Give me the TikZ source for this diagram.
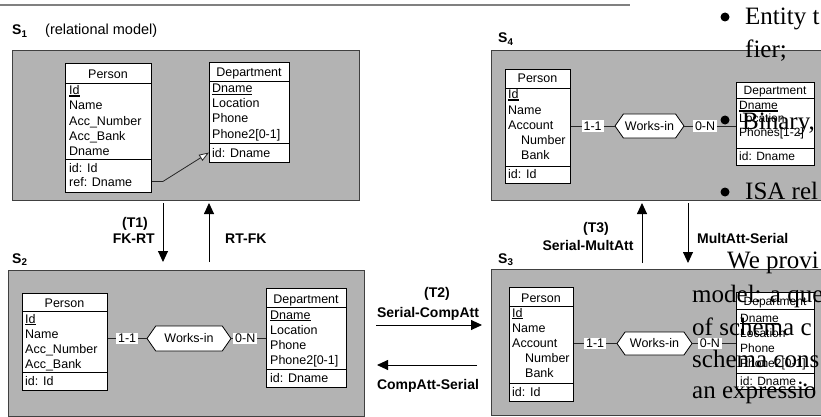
\documentclass[tikz,border=0pt]{standalone}
\usepackage{fontspec}
\setmainfont{Liberation Sans}
\newfontfamily\serifface{Liberation Serif}
\usetikzlibrary{arrows.meta,shapes.symbols,calc}
\definecolor{panelgray}{RGB}{179,179,179}
\definecolor{rulegray}{RGB}{128,128,128}
\newcommand\keyul[1]{\setbox0\hbox{#1}\rlap{\rule[-1.8pt]{\wd0}{1.3pt}}\box0}
\begin{document}
\begin{tikzpicture}[x=1pt,y=-1pt,
  panel/.style={draw=black!75, fill=panelgray, line width=0.8pt, inner sep=0, anchor=north west},
  tbl/.style={draw=black, fill=white, line width=0.8pt, inner sep=0, anchor=north west},
  attrow/.style={font=\fontsize{12.5}{15}\selectfont, inner sep=0, anchor=base west},
  smallrow/.style={font=\fontsize{12}{13}\selectfont, inner sep=0, anchor=base west},
  hdr/.style={font=\fontsize{12.5}{15}\selectfont, inner sep=0, anchor=base},
  lbl/.style={font=\bfseries\fontsize{14}{16}\selectfont, inner sep=0, anchor=base},
  slabel/.style={font=\bfseries\fontsize{14}{16}\selectfont, inner sep=0, anchor=base west},
  card/.style={fill=white, font=\fontsize{12.5}{15}\selectfont, inner xsep=2pt, inner ysep=1pt, text height=9pt, text depth=0.5pt},
  rel/.style={draw=black, fill=white, line width=0.8pt, signal, signal to=west and east, signal pointer angle=110, font=\fontsize{12.5}{15}\selectfont, inner sep=0},
  conn/.style={draw=black!85, line width=0.8pt},
  divline/.style={draw=black, line width=0.8pt},
  tarrow/.style={draw=black, line width=0.9pt, -{Triangle[width=10pt,length=11pt]}},
  overtext/.style={font=\serifface\fontsize{25}{28}\selectfont, inner sep=0, anchor=base west},
]
\clip (0,0) rectangle (821,417);
\fill[white] (0,0) rectangle (821,417);
% top rule
\draw[rulegray, line width=2pt] (0,5) -- (630,5);

% ---------------- panels
\node[panel, minimum width=347, minimum height=150] (s1) at (12,50) {};
\node[panel, minimum width=356, minimum height=146] (s2) at (8,270) {};
\node[panel, minimum width=345, minimum height=150] (s4) at (491,50) {};
\node[panel, minimum width=345, minimum height=146] (s3) at (491,269) {};

\node[slabel] (s1lab) at (12,35) {S\textsubscript{1}};
\node[slabel, font=\fontsize{14.5}{16}\selectfont] (s1sub) at (45,35) {(relational model)};
\node[slabel] (s2lab) at (12,263) {S\textsubscript{2}};
\node[slabel] (s4lab) at (498,43) {S\textsubscript{4}};
\node[slabel] (s3lab) at (498,263) {S\textsubscript{3}};

% ---------------- S1
\node[tbl, minimum width=86, minimum height=129] (p1) at (65,63) {};
\draw[divline] (65,83) -- (151,83);
\draw[divline] (65,159) -- (151,159);
\node[hdr] (p1h) at (108,79) {Person};
\foreach \t [count=\i] in {{\keyul{Id}},Name,Acc\_Number,Acc\_Bank,Dname}
  \node[attrow] (p1r\i) at (69,80+15*\i) {\t};
\node[attrow] (p1k1) at (69,172) {id: Id};
\node[attrow] (p1k2) at (69,186) {ref: Dname};

\node[tbl, minimum width=80, minimum height=100] (d1) at (209,62) {};
\draw[divline] (209,81) -- (289,81);
\draw[divline] (209,143) -- (289,143);
\node[hdr] (d1h) at (249,77) {Department};
\foreach \t [count=\i] in {{\keyul{Dname}},Location,Phone,Phone2[0-1]}
  \node[attrow] (d1r\i) at (212,78+15*\i) {\t};
\node[attrow] (d1k1) at (212,157) {id: Dname};

\draw[conn, -{Triangle[width=7pt,length=10pt,fill=white]}] (p1.east |- p1k2) -- ++(11,0) -- (d1.west |- d1k1);

% ---------------- S2
\node[tbl, minimum width=85, minimum height=97] (p2) at (22,293) {};
\draw[divline] (22,311) -- (107,311);
\draw[divline] (22,372) -- (107,372);
\node[hdr] (p2h) at (64.5,307) {Person};
\foreach \t [count=\i] in {{\keyul{Id}},Name,Acc\_Number,Acc\_Bank}
  \node[attrow] (p2r\i) at (25,308+15*\i) {\t};
\node[attrow] (p2k1) at (25,385) {id: Id};

\node[tbl, minimum width=80, minimum height=99] (d2) at (266,288) {};
\draw[divline] (266,307) -- (346,307);
\draw[divline] (266,369) -- (346,369);
\node[hdr] (d2h) at (306,303) {Department};
\foreach \t [count=\i] in {{\keyul{Dname}},Location,Phone,Phone2[0-1]}
  \node[attrow] (d2r\i) at (270,304+15*\i) {\t};
\node[attrow] (d2k1) at (270,382) {id: Dname};

\node[rel, minimum width=84, minimum height=25] (w2) at (189,338.5) {Works-in};
\draw[conn] (p2.east |- w2.west) -- node[card] (c21) {1-1} (w2.west);
\draw[conn] (w2.east) -- node[card, pos=0.4] (c22) {0-N} (d2.west |- w2.east);

% ---------------- S4
\node[tbl, minimum width=65, minimum height=114] (p4) at (505,69) {};
\draw[divline] (505,88) -- (570,88);
\draw[divline] (505,166) -- (570,166);
\node[hdr] (p4h) at (537.5,83) {Person};
\node[attrow] (p4r1) at (508,99) {\keyul{Id}};
\node[attrow] (p4r2) at (508,114) {Name};
\node[attrow] (p4r3) at (508,129) {Account};
\node[attrow] (p4r4) at (521,144) {Number};
\node[attrow] (p4r5) at (521,159) {Bank};
\node[attrow] (p4k1) at (508,178) {id: Id};

\node[tbl, minimum width=78, minimum height=83] (d4) at (736,82) {};
\draw[divline] (736,98) -- (814,98);
\draw[divline] (736,148) -- (814,148);
\node[smallrow, anchor=base] (d4h) at (775,95) {Department};
\node[smallrow] (d4r1) at (739,110) {\keyul{Dname}};
\node[smallrow] (d4r2) at (739,123) {Location};
\node[smallrow] (d4r3) at (739,136) {Phones[1-2]};
\node[smallrow] (d4k1) at (739,160) {id: Dname};

\node[rel, minimum width=69, minimum height=24] (w4) at (649.5,126) {Works-in};
\draw[conn] (p4.east |- w4.west) -- node[card] (c41) {1-1} (w4.west);
\draw[conn] (w4.east) -- node[card, pos=0.4] (c42) {0-N} (d4.west |- w4.east);

% ---------------- S3
\node[tbl, minimum width=64, minimum height=114] (p3) at (509,287) {};
\draw[divline] (509,306) -- (573,306);
\draw[divline] (509,383) -- (573,383);
\node[hdr] (p3h) at (541,302) {Person};
\node[attrow] (p3r1) at (512,317) {\keyul{Id}};
\node[attrow] (p3r2) at (512,332) {Name};
\node[attrow] (p3r3) at (512,347) {Account};
\node[attrow] (p3r4) at (525,362) {Number};
\node[attrow] (p3r5) at (525,377) {Bank};
\node[attrow] (p3k1) at (512,396) {id: Id};

\node[tbl, minimum width=78, minimum height=97] (d3) at (736,292) {};
\draw[divline] (736,309) -- (814,309);
\draw[divline] (736,373) -- (814,373);
\node[smallrow, anchor=base] (d3h) at (775,305) {Department};
\foreach \t [count=\i] in {{\keyul{Dname}},Location,Phone,Phone2[0-1]}
  \node[smallrow] (d3r\i) at (740,307+15*\i) {\t};
\node[smallrow] (d3k1) at (740,385) {id: Dname};

\node[rel, minimum width=75, minimum height=23] (w3) at (654.5,343.5) {Works-in};
\draw[conn] (p3.east |- w3.west) -- node[card] (c31) {1-1} (w3.west);
\draw[conn] (w3.east) -- node[card, pos=0.4] (c32) {0-N} (d3.west |- w3.east);

% ---------------- transformations
\coordinate (t1a) at (163,203); \coordinate (t1b) at (163,262);
\coordinate (t1c) at (209,262); \coordinate (t1d) at (209,203);
\draw[tarrow] (t1a) -- (t1b);
\draw[tarrow] (t1c) -- (t1d);
\node[lbl] (t1l) at (135,227) {(T1)};
\node[lbl, anchor=base east] (t1n) at (155,243) {FK-RT};
\node[lbl, anchor=base west] (t1r) at (225,243) {RT-FK};

\coordinate (t2a) at (376,325); \coordinate (t2b) at (482,325);
\coordinate (t2c) at (477,365); \coordinate (t2d) at (377,365);
\draw[tarrow] (t2a) -- (t2b);
\draw[tarrow] (t2c) -- (t2d);
\node[lbl] (t2l) at (437,297) {(T2)};
\node[lbl] (t2n) at (428,317) {Serial-CompAtt};
\node[lbl] (t2r) at (428,389) {CompAtt-Serial};

\coordinate (t3a) at (642,263); \coordinate (t3b) at (642,203);
\coordinate (t3c) at (688,203); \coordinate (t3d) at (688,263);
\draw[tarrow] (t3a) -- (t3b);
\draw[tarrow] (t3c) -- (t3d);
\node[lbl] (t3l) at (596,232) {(T3)};
\node[lbl] (t3n) at (588,250) {Serial-MultAtt};
\node[lbl, anchor=base west] (t3r) at (697,243) {MultAtt-Serial};

% ---------------- overlapping page text
\fill[black] (725,17) circle (4.5);
\fill[black] (725,120) circle (4.5);
\fill[black] (725,192) circle (4.5);
\node[overtext] (o1) at (745,25) {Entity t};
\node[overtext] (o2) at (745,58) {fier;};
\node[overtext] (o3) at (742,129) {Binary,};
\node[overtext] (o4) at (745,199) {ISA rel};
\node[overtext] (o5) at (727,268) {We provi};
\node[overtext] (o6) at (692,302) {model: a que};
\node[overtext] (o7) at (692,335) {of schema c};
\node[overtext] (o8) at (692,367) {schema cons};
\node[overtext] (o9) at (692,398) {an expressio};
\node[overtext] (o10) at (802,386) {.};
\end{tikzpicture}
\end{document}
